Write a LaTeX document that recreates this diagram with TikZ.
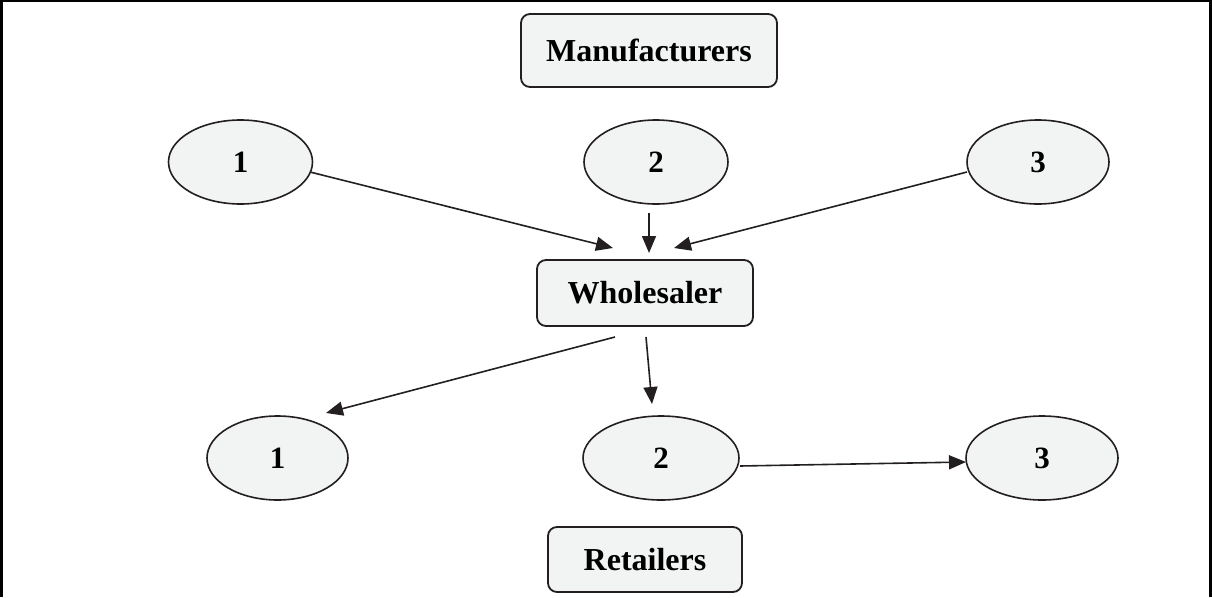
\documentclass[tikz,border=0pt]{standalone}
\usepackage{fontspec}
\setmainfont{Liberation Serif}
\usetikzlibrary{arrows.meta,shapes.geometric}
\definecolor{nodefill}{HTML}{F2F3F3}
\definecolor{ink}{HTML}{231F20}
\begin{document}
\begin{tikzpicture}[x=1pt,y=-1pt,
  box/.style={draw=ink, line width=1.8pt, fill=nodefill, rounded corners=9pt,
    font=\bfseries\fontsize{32}{38}\selectfont, inner sep=0pt},
  oval/.style={ellipse, draw=ink, line width=1.6pt, fill=nodefill, inner sep=0pt,
    font=\bfseries\fontsize{31}{37}\selectfont, minimum height=84pt},
  arr/.style={draw=ink, line width=1.6pt, -{Triangle[length=17pt,width=14pt]}}]
\useasboundingbox (0,0) rectangle (1212,597);
% frame
\draw[line width=2.5pt, black] (1.5,597) -- (1.5,1) -- (1210.5,1) -- (1210.5,597);
% boxes
\node[box, minimum width=256pt, minimum height=73pt] (manu) at (649,50.5) {Manufacturers};
\node[box, minimum width=216pt, minimum height=66pt] (whole) at (645,293) {Wholesaler};
\node[box, minimum width=194pt, minimum height=65pt] (ret) at (645,559.5) {Retailers};
% manufacturers
\node[oval, minimum width=144pt] (m1) at (240.5,162) {1};
\node[oval, minimum width=144pt] (m2) at (656,162) {2};
\node[oval, minimum width=142pt] (m3) at (1038,162) {3};
% retailers
\node[oval, minimum width=141pt] (r1) at (277.5,458) {1};
\node[oval, minimum width=156pt] (r2) at (661,458) {2};
\node[oval, minimum width=152pt] (r3) at (1042,458) {3};
% arrow ends
\coordinate (a1s) at (310,172);
\coordinate (a1e) at (613,248);
\coordinate (a2s) at (649,213);
\coordinate (a2e) at (649,253);
\coordinate (a3s) at (967,172);
\coordinate (a3e) at (674,248);
\coordinate (b1s) at (615,337);
\coordinate (b1e) at (326,413);
\coordinate (b2s) at (646,337);
\coordinate (b2e) at (652,404);
\coordinate (c1s) at (740,466);
\coordinate (c1e) at (966,462);
\draw[arr] (a1s) -- (a1e);
\draw[arr] (a2s) -- (a2e);
\draw[arr] (a3s) -- (a3e);
\draw[arr] (b1s) -- (b1e);
\draw[arr] (b2s) -- (b2e);
\draw[arr] (c1s) -- (c1e);
\end{tikzpicture}
\end{document}
